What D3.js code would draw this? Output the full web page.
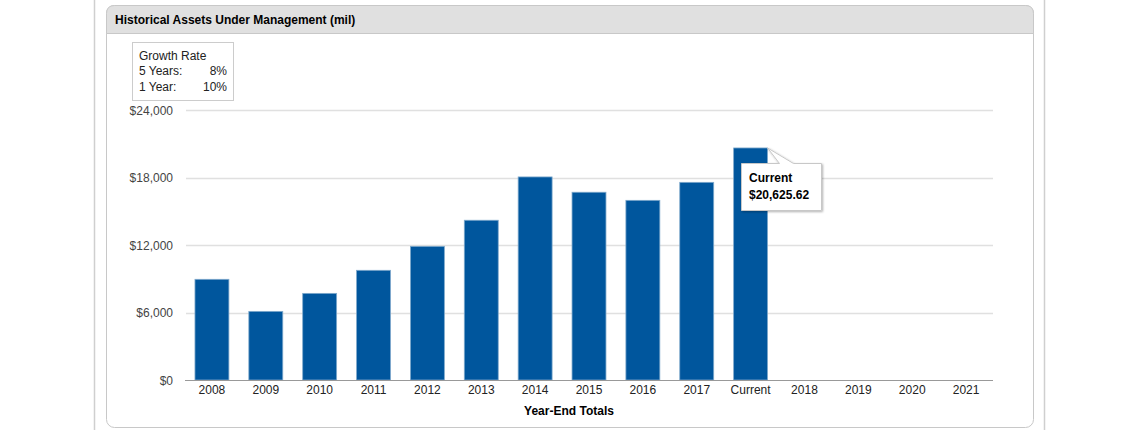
<!DOCTYPE html>
<html>
<head>
<meta charset="utf-8">
<script src="https://cdn.jsdelivr.net/npm/d3@7"></script>
<style>
  html, body { margin: 0; padding: 0; background: #fff; }
  svg { display: block; font-family: "Liberation Sans", Arial, sans-serif; }
</style>
</head>
<body>
<svg id="chart" width="1140" height="430"></svg>
<script>
const categories = ["2008","2009","2010","2011","2012","2013","2014","2015","2016","2017","Current","2018","2019","2020","2021"];
const values = [8950, 6100, 7700, 9750, 11880, 14200, 18050, 16690, 15970, 17570, 20625.62, null, null, null, null];
const yTicks = [0, 6000, 12000, 18000, 24000];
const title = "Historical Assets Under Management (mil)";
const xTitle = "Year-End Totals";
const growthLabels = ["5 Years:", "1 Year:"];
const growthValues = ["8%", "10%"];
const tooltipName = "Current";

const svg = d3.select("#chart");

// page container lines
svg.append("line").attr("x1", 94.5).attr("x2", 94.5).attr("y1", 0).attr("y2", 430).attr("stroke", "#cfcfcf").attr("stroke-width", 1.5);
svg.append("line").attr("x1", 1044.5).attr("x2", 1044.5).attr("y1", 0).attr("y2", 430).attr("stroke", "#cfcfcf").attr("stroke-width", 1.5);

// panel
const px = 106.5, py = 5.5, pw = 927, ph = 422, r = 8;
svg.append("rect").attr("x", px).attr("y", py).attr("width", pw).attr("height", ph).attr("rx", r)
  .attr("fill", "#fff").attr("stroke", "#c8c8c8");
// header
const hh = 28;
svg.append("path")
  .attr("d", `M${px},${py+hh} V${py+r} Q${px},${py} ${px+r},${py} H${px+pw-r} Q${px+pw},${py} ${px+pw},${py+r} V${py+hh} Z`)
  .attr("fill", "#e0e0e0").attr("stroke", "#c8c8c8");
svg.append("text").attr("x", 115).attr("y", 23.5).attr("font-size", 12).attr("font-weight", "bold").attr("fill", "#000").text(title);

// scales
const x = d3.scaleBand().domain(categories).range([185, 993]).paddingInner(0.37).paddingOuter(0.185);
const y = d3.scaleLinear().domain([0, 24000]).range([380, 110]);

// gridlines
svg.append("g").selectAll("line").data(yTicks.filter(d => d > 0)).join("line")
  .attr("x1", 186).attr("x2", 993)
  .attr("y1", d => Math.round(y(d)) + 0.5).attr("y2", d => Math.round(y(d)) + 0.5)
  .attr("stroke", "#e0e0e0").attr("stroke-width", 1.5);

// y axis labels
const yAxis = d3.axisLeft(y).tickValues(yTicks).tickSize(0).tickPadding(0)
  .tickFormat(d => "$" + d3.format(",")(d));
const yg = svg.append("g").attr("transform", "translate(173,0)").call(yAxis);
yg.select(".domain").remove();
yg.selectAll("text").attr("font-size", 12).attr("fill", "#444").attr("font-family", "Liberation Sans, Arial, sans-serif").attr("dy", "0.34em");

// bars
const bars = categories.map((c, i) => ({ c, v: values[i] })).filter(d => d.v != null);
svg.append("g").selectAll("rect").data(bars).join("rect")
  .attr("x", d => x(d.c)).attr("width", x.bandwidth())
  .attr("y", d => y(d.v)).attr("height", d => y(0) - y(d.v))
  .attr("fill", "#00569d").attr("stroke", "#7fa9cc").attr("stroke-width", 0.8);

// x axis
const xAxis = d3.axisBottom(x).tickSize(0).tickPadding(5);
const xg = svg.append("g").attr("transform", "translate(0,380)").call(xAxis);
xg.select(".domain").attr("stroke", "#999").attr("stroke-width", 1.2).attr("d", "M185,0.5H993");
xg.selectAll("text").attr("font-size", 12).attr("fill", "#222").attr("font-family", "Liberation Sans, Arial, sans-serif");

svg.append("text").attr("x", (185 + 993) / 2 - 20).attr("y", 415).attr("text-anchor", "middle")
  .attr("font-size", 12).attr("font-weight", "bold").attr("fill", "#000").text(xTitle);

// legend box
svg.append("rect").attr("x", 132.5).attr("y", 42.5).attr("width", 101).attr("height", 58)
  .attr("fill", "#fff").attr("stroke", "#ccc");
svg.append("text").attr("x", 139).attr("y", 60).attr("font-size", 12).attr("fill", "#222").text("Growth Rate");
growthLabels.forEach((l, i) => {
  svg.append("text").attr("x", 139).attr("y", 75 + i * 16).attr("font-size", 12).attr("fill", "#222").text(l);
  svg.append("text").attr("x", 227).attr("y", 75 + i * 16).attr("text-anchor", "end").attr("font-size", 12).attr("fill", "#222").text(growthValues[i]);
});

// tooltip
const cur = bars.find(d => d.c === tooltipName);
const ax = x(cur.c) + x.bandwidth(), ay = y(cur.v);
const bx = 741.5, by = 163.5, bw = 80, bh = 47;
const defs = svg.append("defs");
const f = defs.append("filter").attr("id", "sh").attr("x", "-20%").attr("y", "-20%").attr("width", "150%").attr("height", "150%");
f.append("feDropShadow").attr("dx", 1).attr("dy", 1).attr("stdDeviation", 1.2).attr("flood-color", "#000").attr("flood-opacity", 0.3);
svg.append("path")
  .attr("d", `M${bx},${by} H${bx + 38} L${ax},${ay} L${bx + 52},${by} H${bx + bw} V${by + bh} H${bx} Z`)
  .attr("fill", "#fff").attr("stroke", "#c8c8c8").attr("filter", "url(#sh)");
svg.append("text").attr("x", 749).attr("y", 182).attr("font-size", 12).attr("font-weight", "bold").attr("fill", "#000").text(cur.c);
svg.append("text").attr("x", 749).attr("y", 199).attr("font-size", 12).attr("font-weight", "bold").attr("fill", "#000")
  .text("$" + d3.format(",.2f")(cur.v));
</script>
</body>
</html>
